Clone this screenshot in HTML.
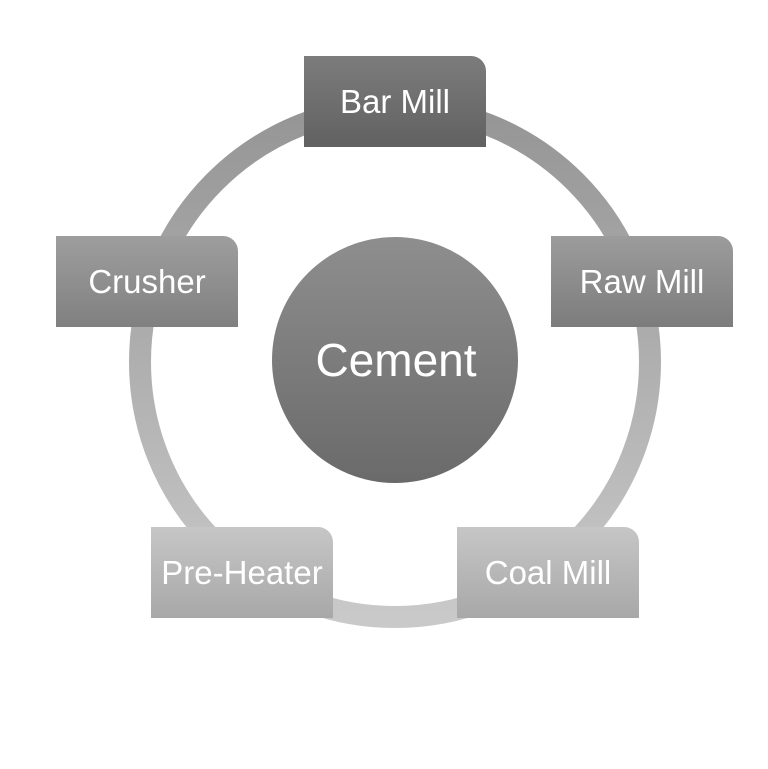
<!DOCTYPE html>
<html><head><style>
body{margin:0;background:#fff;width:768px;height:769px;overflow:hidden;position:relative;font-family:"Liberation Sans",sans-serif}
.b{position:absolute;width:182px;height:91px;border-radius:0 15px 0 0;color:#fff;font-size:33px;display:flex;align-items:center;justify-content:center;letter-spacing:0px;white-space:nowrap}
</style></head><body>
<svg width="768" height="769" style="position:absolute;left:0;top:0">
<defs>
<linearGradient id="r" x1="0" y1="0" x2="0" y2="1"><stop offset="0" stop-color="#959595"/><stop offset="1" stop-color="#c9c9c9"/></linearGradient>
<linearGradient id="c" x1="0" y1="0" x2="0" y2="1"><stop offset="0" stop-color="#8e8e8e"/><stop offset="1" stop-color="#6a6a6a"/></linearGradient>
</defs>
<circle cx="395" cy="362" r="255" fill="none" stroke="url(#r)" stroke-width="22"/>
<circle cx="395" cy="360" r="123" fill="url(#c)"/>
<text x="396" y="376" text-anchor="middle" fill="#fff" font-size="46" font-family="Liberation Sans, sans-serif">Cement</text>
</svg>
<div class="b" style="left:304px;top:56px;background:linear-gradient(#7c7c7c,#616161)">Bar Mill</div>
<div class="b" style="left:551px;top:236px;background:linear-gradient(#9c9c9c,#7c7c7c)">Raw Mill</div>
<div class="b" style="left:56px;top:236px;background:linear-gradient(#9e9e9e,#808080)">Crusher</div>
<div class="b" style="left:151px;top:527px;background:linear-gradient(#c6c6c6,#a8a8a8)">Pre-Heater</div>
<div class="b" style="left:457px;top:527px;background:linear-gradient(#c6c6c6,#a8a8a8)">Coal Mill</div>
</body></html>
